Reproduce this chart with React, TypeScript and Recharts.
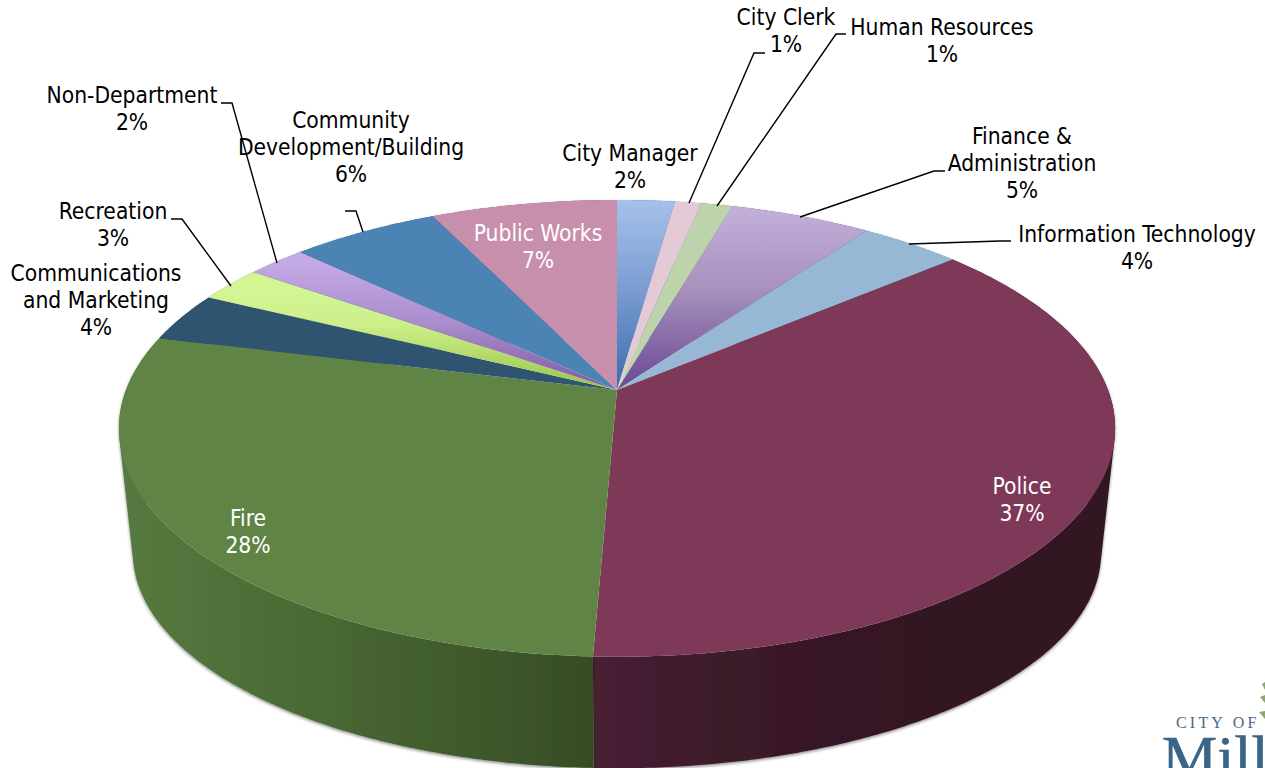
import React from 'react';
import { PieChart, Pie, Cell } from 'recharts';

// shares, clockwise from 12 o'clock
const departments = [
  'City Manager', 'City Clerk', 'Human Resources', 'Finance & Administration', 'Information Technology',
  'Police', 'Fire', 'Communications and Marketing', 'Recreation', 'Non-Department',
  'Community Development/Building', 'Public Works',
];
const shares = [2.2, 1.0, 1.2, 5.4, 3.9, 36.95, 28.25, 3.5, 2.5, 2.3, 5.7, 7.1];
const printedPercents = ['2%', '1%', '1%', '5%', '4%', '37%', '28%', '4%', '3%', '2%', '6%', '7%'];

const chartData = departments.map((name, i) => ({ name, value: shares[i], percent: printedPercents[i] }));

const TOP_FILLS = [
  'url(#topManager)', '#e4c9d6', '#bcd3ab', 'url(#topFinance)', '#96b8d4', '#7e3958',
  '#5f8445', '#2f5470', 'url(#topRecreation)', 'url(#topNonDept)', '#4b84b4', '#c78fac',
];
const WALL_FILLS = [
  '#3c6cad', '#a08a96', '#7f9472', '#6a4a90', '#688aa6', 'url(#wallPolice)',
  'url(#wallFire)', '#1f3a50', '#7c9e3a', '#6a4a90', '#315f88', '#8f5f7a',
];

// wrapped label text + where it sits; not data, just layout of the annotations
const LABELS: { lines: string[]; x: number; y: number; color?: string; leader?: number[][] }[] = [
  { lines: ['City Manager'], x: 630, y: 153 },
  { lines: ['City Clerk'], x: 786, y: 17, leader: [[765, 53], [754, 53], [689, 203]] },
  { lines: ['Human Resources'], x: 942, y: 27, leader: [[846, 34], [836, 34], [717, 206]] },
  { lines: ['Finance &', 'Administration'], x: 1022, y: 136, leader: [[945, 171], [934, 171], [800, 217]] },
  { lines: ['Information Technology'], x: 1137, y: 234, leader: [[1011, 241], [1000, 241], [909, 244]] },
  { lines: ['Police'], x: 1022, y: 486, color: '#fff' },
  { lines: ['Fire'], x: 248, y: 518, color: '#fff' },
  { lines: ['Communications', 'and Marketing'], x: 96, y: 273 },
  { lines: ['Recreation'], x: 113, y: 211, leader: [[171, 219], [182, 219], [231, 286]] },
  { lines: ['Non-Department'], x: 132, y: 95, leader: [[221, 103], [232, 103], [277, 263]] },
  { lines: ['Community', 'Development/Building'], x: 351, y: 120, leader: [[345, 211], [356, 211], [363, 232]] },
  { lines: ['Public Works'], x: 538, y: 233, color: '#fff' },
];

const CX = 617;
const CY = 390;
const RADIUS = 491;
const TILT = 0.452;
const PERSPECTIVE = 0.168;
const FONT = '"DejaVu Sans Condensed", "DejaVu Sans", sans-serif';

// polar angle of the flat pie -> point on the tilted top rim
const rimPoint = (cx: number, cy: number, r: number, deg: number) => {
  const t = ((90 - deg) * Math.PI) / 180;
  const u = Math.sin(t);
  const v = -Math.cos(t);
  const w = 1 - PERSPECTIVE * v;
  return [cx + (r * u) / w, cy + (r * TILT * v) / w];
};

// the lower rim is the top one, a bit smaller and moved down
const lowerPoint = (p: number[]) => [616.5 + (p[0] - 616.5) * 0.972, 553 + (p[1] - 428.5) * 0.943];

const sampleRim = (props: any) => {
  const { cx, cy, outerRadius, startAngle, endAngle } = props;
  const steps = Math.max(2, Math.ceil(Math.abs(endAngle - startAngle) * 2));
  const pts: number[][] = [];
  for (let i = 0; i <= steps; i++) {
    pts.push(rimPoint(cx, cy, outerRadius, startAngle + ((endAngle - startAngle) * i) / steps));
  }
  return pts;
};

const toPath = (pts: number[][]) => 'M' + pts.map((p) => `${p[0].toFixed(2)},${p[1].toFixed(2)}`).join('L') + 'Z';

const signedArea = (pts: number[][]) =>
  pts.reduce((sum, p, i) => {
    const q = pts[(i + 1) % pts.length];
    return sum + p[0] * q[1] - q[0] * p[1];
  }, 0);

const TopFace = (props: any) => {
  const pts = sampleRim(props);
  return <path d={toPath([[props.cx, props.cy], ...pts])} fill={props.fill} stroke="none" />;
};

// one quad per rim step, all wound the same way, so a single path fills the side silhouette without seams
const WallFace = (props: any) => {
  const pts = sampleRim(props);
  const d = pts
    .slice(1)
    .map((p, i) => {
      const quad = [pts[i], p, lowerPoint(p), lowerPoint(pts[i])];
      return toPath(signedArea(quad) < 0 ? quad.reverse() : quad);
    })
    .join('');
  return <path d={d} fill={props.fill} stroke="none" filter="url(#wallShadow)" />;
};

const renderLabel = (props: any) => {
  const item = LABELS[props.index];
  const lines = [...item.lines, printedPercents[props.index]];
  return (
    <g key={departments[props.index]}>
      {item.leader && (
        <polyline points={item.leader.map((p) => p.join(',')).join(' ')} fill="none" stroke="#000" strokeWidth={1.4} />
      )}
      {lines.map((line, i) => (
        <text
          key={i}
          x={item.x}
          y={item.y + i * 27}
          textAnchor="middle"
          dominantBaseline="central"
          fontFamily={FONT}
          fontSize={22.6}
          fill={item.color ?? '#000'}
        >
          {line}
        </text>
      ))}
    </g>
  );
};

const App = () => (
  <div style={{ position: 'absolute', left: 0, top: 0, width: 1265, height: 768, overflow: 'hidden', background: '#fff' }}>
    <PieChart width={1265} height={768} margin={{ top: 0, right: 0, bottom: 0, left: 0 }}>
      <defs>
        <linearGradient id="topManager" gradientUnits="userSpaceOnUse" x1="0" y1="200" x2="0" y2="390">
          <stop offset="0" stopColor="#a6c1ea" />
          <stop offset="0.45" stopColor="#7d9ed4" />
          <stop offset="1" stopColor="#3a6bac" />
        </linearGradient>
        <linearGradient id="topFinance" gradientUnits="userSpaceOnUse" x1="0" y1="205" x2="0" y2="390">
          <stop offset="0" stopColor="#c3b1da" />
          <stop offset="0.45" stopColor="#a891bd" />
          <stop offset="1" stopColor="#684892" />
        </linearGradient>
        <linearGradient id="topRecreation" gradientUnits="userSpaceOnUse" x1="0" y1="290" x2="0" y2="390">
          <stop offset="0" stopColor="#d3f695" />
          <stop offset="0.35" stopColor="#cdee8a" />
          <stop offset="1" stopColor="#97c444" />
        </linearGradient>
        <linearGradient id="topNonDept" gradientUnits="userSpaceOnUse" x1="0" y1="260" x2="0" y2="390">
          <stop offset="0" stopColor="#c5abe6" />
          <stop offset="0.5" stopColor="#a88ccb" />
          <stop offset="1" stopColor="#7f58a6" />
        </linearGradient>
        <linearGradient id="wallFire" gradientUnits="userSpaceOnUse" x1="120" y1="0" x2="595" y2="0">
          <stop offset="0" stopColor="#567a40" />
          <stop offset="0.4" stopColor="#4a6a34" />
          <stop offset="1" stopColor="#364c25" />
        </linearGradient>
        <linearGradient id="wallPolice" gradientUnits="userSpaceOnUse" x1="595" y1="0" x2="1110" y2="0">
          <stop offset="0" stopColor="#472033" />
          <stop offset="0.4" stopColor="#371827" />
          <stop offset="0.7" stopColor="#321221" />
          <stop offset="1" stopColor="#331524" />
        </linearGradient>
        <filter id="wallShadow" filterUnits="userSpaceOnUse" x="0" y="0" width="1265" height="800">
          <feDropShadow dx="0" dy="1.5" stdDeviation="1.6" floodColor="#000" floodOpacity="0.45" />
        </filter>
      </defs>
      <Pie
        data={chartData}
        dataKey="value"
        nameKey="name"
        cx={CX}
        cy={CY}
        outerRadius={RADIUS}
        startAngle={90}
        endAngle={-270}
        shape={WallFace}
        isAnimationActive={false}
      >
        {chartData.map((_, i) => (
          <Cell key={`wall-${i}`} fill={WALL_FILLS[i]} />
        ))}
      </Pie>
      <Pie
        data={chartData}
        dataKey="value"
        nameKey="name"
        cx={CX}
        cy={CY}
        outerRadius={RADIUS}
        startAngle={90}
        endAngle={-270}
        shape={TopFace}
        label={renderLabel}
        labelLine={false}
        isAnimationActive={false}
      >
        {chartData.map((_, i) => (
          <Cell key={`top-${i}`} fill={TOP_FILLS[i]} />
        ))}
      </Pie>
      {/* logo corner */}
      <text x={1176} y={728} fontFamily='"Liberation Serif", serif' fontSize={16} letterSpacing={3.2} fill="#47698a">
        CITY OF
      </text>
      <text x={1162} y={778} fontFamily='"Liberation Serif", serif' fontSize={62} fill="#3a6587" stroke="#3a6587" strokeWidth={0.6}>
        Mill
      </text>
      <polygon points="1262,684 1265,682 1265,690" fill="#8aa96a" />
      <polygon points="1260,697 1265,695 1265,703" fill="#8aa96a" />
      <polygon points="1259,712 1265,711 1265,719" fill="#8aa96a" />
    </PieChart>
  </div>
);

export default App;
